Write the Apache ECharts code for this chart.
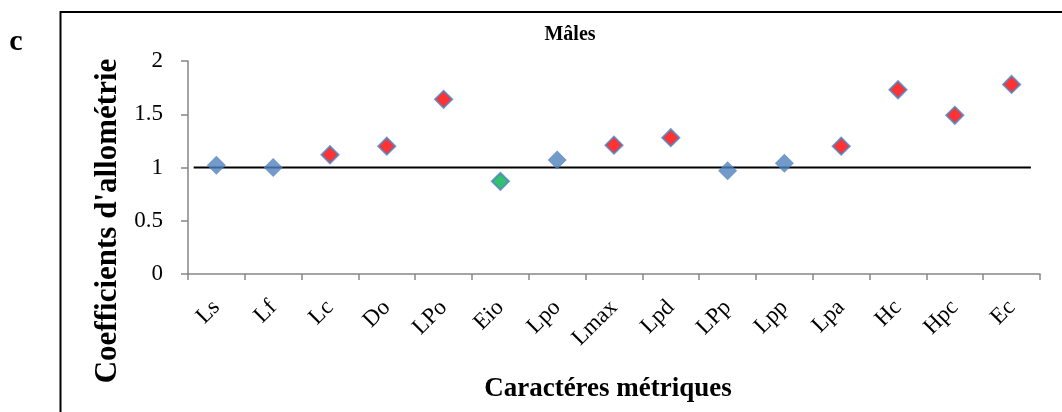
<!DOCTYPE html>
<html>
<head>
<meta charset="utf-8">
<script src="https://cdn.jsdelivr.net/npm/echarts@6/dist/echarts.min.js"></script>
<style>
html,body{margin:0;padding:0;background:#fff;}
#chart{width:1062px;height:412px;}
</style>
</head>
<body>
<div id="chart"></div>
<script>
const categories = ['Ls','Lf','Lc','Do','LPo','Eio','Lpo','Lmax','Lpd','LPp','Lpp','Lpa','Hc','Hpc','Ec'];
const coefficients = [1.02, 1.00, 1.12, 1.20, 1.64, 0.87, 1.07, 1.21, 1.28, 0.97, 1.04, 1.20, 1.73, 1.49, 1.78];
// allometry type: 'iso' (blue), 'maj' (red), 'min' (green)
const allometryType = ['iso','iso','maj','maj','maj','min','iso','maj','maj','iso','iso','maj','maj','maj','maj'];
const yTicks = [0, 0.5, 1, 1.5, 2];
const referenceLine = [[0.1, 1], [14.84, 1]];

const serif = '"Liberation Serif", "DejaVu Serif", serif';

function pick(type) {
  return coefficients.map((v, i) => allometryType[i] === type ? v : null);
}

const chart = echarts.init(document.getElementById('chart'));
chart.setOption({
  animation: false,
  backgroundColor: '#fff',
  title: {
    text: 'Mâles',
    left: 565, top: 20, textAlign: 'center',
    textStyle: { fontFamily: serif, fontSize: 20, fontWeight: 'bold', color: '#000' }
  },
  grid: { left: 188, right: 22, top: 61, bottom: 138, containLabel: false },
  xAxis: [{
    type: 'category',
    data: categories,
    boundaryGap: true,
    axisLine: { lineStyle: { color: '#868686', width: 1.5 } },
    axisTick: { show: true, length: 6, lineStyle: { color: '#868686', width: 1.5 } },
    axisLabel: { rotate: 45, fontFamily: serif, fontSize: 23, color: '#000', margin: 30, interval: 0 },
    splitLine: { show: false }
  }, {
    type: 'value', min: 0, max: 15, show: false
  }],
  yAxis: {
    type: 'value', min: yTicks[0], max: yTicks[yTicks.length - 1], interval: 0.5,
    axisLine: { show: true, lineStyle: { color: '#868686', width: 1.5 } },
    axisTick: { show: true, length: 7, lineStyle: { color: '#868686', width: 1.5 } },
    axisLabel: { fontFamily: serif, fontSize: 23, color: '#000', margin: 25 },
    splitLine: { show: false }
  },
  graphic: [
    { type: 'rect', shape: { x: 60.5, y: 12, width: 1010, height: 420 },
      style: { fill: null, stroke: '#000', lineWidth: 2 }, silent: true },
    { type: 'text', x: 16, y: 42, style: { text: 'c', fontFamily: serif, fontSize: 30, fontWeight: 'bold', fill: '#000', textAlign: 'center', textVerticalAlign: 'middle' } },
    { type: 'text', x: 108, y: 221, rotation: Math.PI / 2,
      style: { text: "Coefficients d'allométrie", fontFamily: serif, fontSize: 31, fontWeight: 'bold', fill: '#000', textAlign: 'center', textVerticalAlign: 'middle' } },
    { type: 'text', x: 608, y: 389,
      style: { text: 'Caractéres métriques', fontFamily: serif, fontSize: 27, fontWeight: 'bold', fill: '#000', textAlign: 'center', textVerticalAlign: 'middle' } }
  ],
  series: [
    { type: 'line', xAxisIndex: 1, data: referenceLine, symbol: 'none',
      lineStyle: { color: '#000', width: 2 }, z: 1 },
    { type: 'scatter', data: pick('iso'), symbol: 'diamond', symbolSize: [19, 19],
      itemStyle: { color: '#4F81BD' }, z: 3 },
    { type: 'scatter', data: pick('maj'), symbol: 'diamond', symbolSize: [17, 17],
      itemStyle: { color: '#FF0000', borderColor: '#4F81BD', borderWidth: 2 }, z: 3 },
    { type: 'scatter', data: pick('min'), symbol: 'diamond', symbolSize: [17, 17],
      itemStyle: { color: '#00B050', borderColor: '#4F81BD', borderWidth: 2 }, z: 3 }
  ]
});
</script>
</body>
</html>
